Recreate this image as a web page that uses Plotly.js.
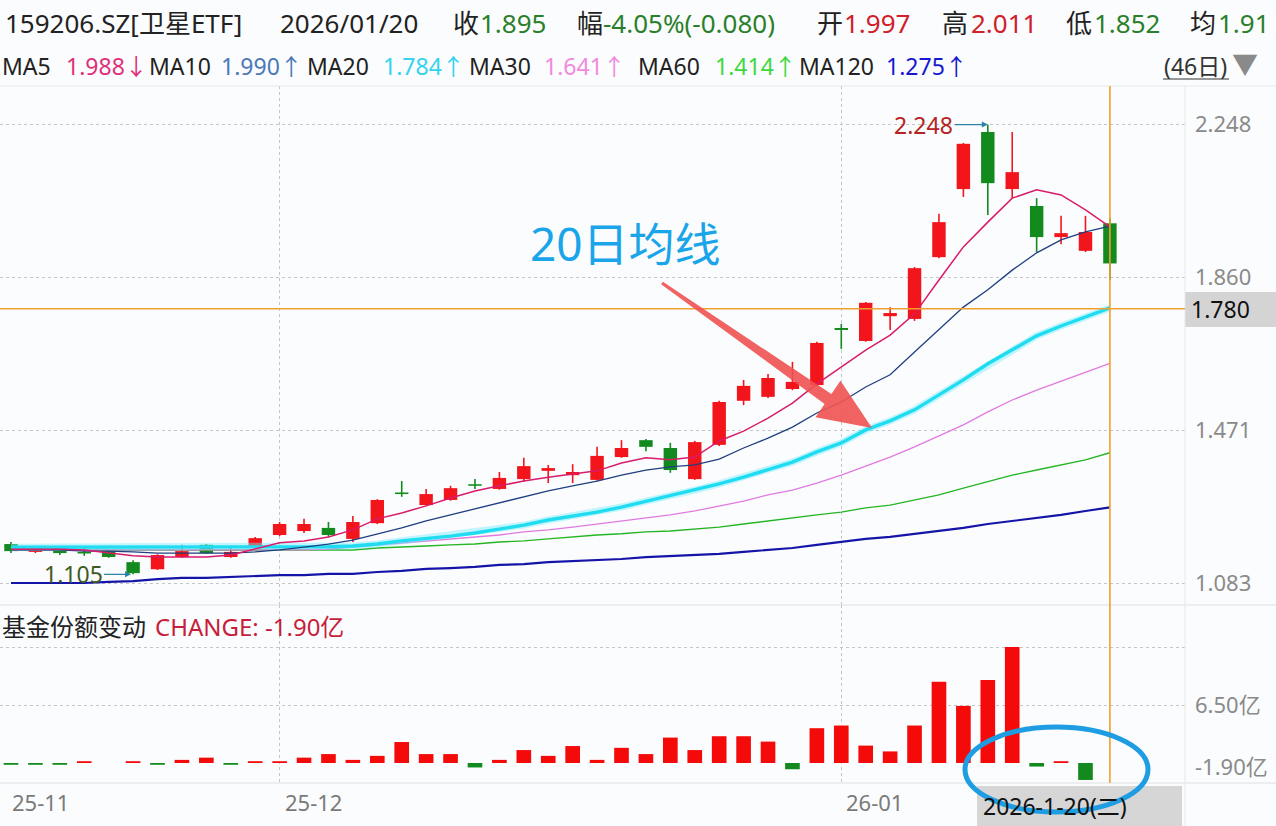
<!DOCTYPE html>
<html><head><meta charset="utf-8">
<script src="https://cdn.plot.ly/plotly-3.0.1.min.js"></script>
<style>html,body{margin:0;padding:0;background:#fbfcfd;}#chart{width:1276px;height:826px;}</style>
</head><body><div id="chart"></div>
<script>
// ---------------- data ----------------
const dates = ['2025-11-14','2025-11-17','2025-11-18','2025-11-19','2025-11-20','2025-11-21','2025-11-24','2025-11-25','2025-11-26','2025-11-27','2025-11-28',
'2025-12-01','2025-12-02','2025-12-03','2025-12-04','2025-12-05','2025-12-08','2025-12-09','2025-12-10','2025-12-11','2025-12-12','2025-12-15','2025-12-16','2025-12-17','2025-12-18','2025-12-19','2025-12-22','2025-12-23','2025-12-24','2025-12-25','2025-12-26','2025-12-29','2025-12-30','2025-12-31',
'2026-01-05','2026-01-06','2026-01-07','2026-01-08','2026-01-09','2026-01-12','2026-01-13','2026-01-14','2026-01-15','2026-01-16','2026-01-19','2026-01-20'];
const openP  = [1.182,1.162,1.172,1.160,1.164,1.136,1.118,1.149,1.180,1.149,1.174,1.205,1.215,1.223,1.195,1.235,1.313,1.281,1.294,1.333,1.322,1.347,1.368,1.357,1.345,1.403,1.446,1.426,1.347,1.434,1.546,1.556,1.576,1.586,1.731,1.698,1.761,1.754,1.911,2.084,2.229,2.084,2.041,1.962,1.927,1.997];
const highP  = [1.187,1.174,1.174,1.172,1.166,1.141,1.156,1.180,1.182,1.174,1.200,1.238,1.246,1.238,1.253,1.296,1.342,1.322,1.330,1.347,1.365,1.401,1.383,1.385,1.429,1.446,1.449,1.439,1.444,1.546,1.599,1.614,1.645,1.696,1.741,1.797,1.784,1.886,2.021,2.201,2.248,2.229,2.061,2.016,2.016,2.011];
const lowP   = [1.159,1.159,1.154,1.152,1.147,1.105,1.116,1.147,1.157,1.147,1.172,1.202,1.210,1.200,1.187,1.233,1.302,1.279,1.292,1.322,1.320,1.340,1.337,1.337,1.343,1.401,1.418,1.363,1.345,1.431,1.535,1.553,1.573,1.583,1.678,1.696,1.726,1.749,1.908,2.064,2.018,2.061,1.924,1.944,1.924,1.852];
const closeP = [1.164,1.172,1.159,1.158,1.149,1.108,1.154,1.164,1.159,1.162,1.197,1.233,1.233,1.205,1.238,1.294,1.309,1.309,1.324,1.330,1.350,1.380,1.375,1.365,1.406,1.426,1.429,1.370,1.441,1.543,1.584,1.604,1.594,1.693,1.726,1.795,1.769,1.883,2.000,2.199,2.099,2.127,1.962,1.972,1.975,1.895];
const ma5   = [1.169,1.169,1.169,1.167,1.159,1.152,1.149,1.149,1.149,1.154,1.169,1.185,1.190,1.200,1.218,1.246,1.261,1.279,1.299,1.317,1.330,1.342,1.352,1.360,1.368,1.388,1.401,1.396,1.403,1.444,1.469,1.502,1.540,1.589,1.632,1.675,1.713,1.767,1.853,1.937,2.000,2.061,2.082,2.069,2.031,1.988];
const ma10  = [1.167,1.167,1.167,1.164,1.164,1.162,1.159,1.159,1.159,1.159,1.162,1.167,1.174,1.182,1.192,1.208,1.223,1.241,1.256,1.271,1.286,1.302,1.317,1.330,1.342,1.357,1.370,1.378,1.383,1.398,1.426,1.451,1.479,1.515,1.543,1.581,1.612,1.670,1.726,1.784,1.828,1.878,1.922,1.955,1.975,1.990];
const ma20  = [1.174,1.174,1.174,1.174,1.174,1.174,1.174,1.174,1.174,1.174,1.174,1.174,1.174,1.175,1.177,1.182,1.190,1.195,1.202,1.210,1.220,1.230,1.243,1.253,1.263,1.276,1.291,1.304,1.319,1.335,1.352,1.370,1.390,1.416,1.439,1.472,1.495,1.523,1.561,1.599,1.640,1.675,1.711,1.736,1.759,1.782];
const ma30  = [1.167,1.167,1.167,1.167,1.167,1.167,1.167,1.167,1.167,1.167,1.167,1.167,1.167,1.169,1.174,1.180,1.185,1.190,1.195,1.200,1.205,1.213,1.218,1.225,1.233,1.241,1.248,1.256,1.266,1.279,1.291,1.307,1.319,1.337,1.357,1.380,1.403,1.429,1.457,1.485,1.518,1.548,1.573,1.596,1.617,1.641];
const ma60  = [1.167,1.167,1.167,1.167,1.167,1.167,1.167,1.167,1.167,1.167,1.167,1.167,1.167,1.167,1.167,1.172,1.174,1.177,1.180,1.182,1.187,1.190,1.195,1.200,1.205,1.208,1.213,1.215,1.220,1.225,1.233,1.241,1.248,1.256,1.263,1.274,1.281,1.294,1.307,1.324,1.340,1.357,1.370,1.383,1.396,1.414];
const ma120 = [1.083,1.083,1.083,1.083,1.086,1.088,1.093,1.096,1.096,1.098,1.101,1.103,1.103,1.106,1.106,1.111,1.114,1.119,1.121,1.124,1.129,1.131,1.136,1.139,1.141,1.144,1.149,1.152,1.154,1.157,1.162,1.167,1.172,1.180,1.187,1.195,1.200,1.208,1.215,1.223,1.233,1.241,1.248,1.256,1.266,1.275];
// fund share change (亿)
const fundChange = [-0.2,-0.2,-0.2,0.2,null,0.2,-0.2,0.35,0.6,-0.2,0.2,0.2,0.6,1.0,0.35,0.8,2.35,1.0,1.0,-0.5,0.35,1.45,0.8,1.9,0.35,1.7,1.0,2.85,1.45,3.0,3.0,2.4,-0.7,3.9,4.2,1.95,1.3,4.2,9.1,6.4,9.3,13.0,-0.4,0.2,-1.9,null];
const priceTicks = [1.083,1.471,1.860,2.248];
const priceTickText = ['1.083','1.471','1.860','2.248'];
const fundTicks = [13.0,6.5];
const fundTickText = ['','6.50亿'];
const fundMinLabel = '-1.90亿';
const monthTicks = ['2025-11-14','2025-12-01','2026-01-05'];
const monthLabels = ['25-11','25-12','26-01'];
const cursorDate = '2026-01-20';
const cursorPrice = 1.780;
const cursorDateLabel = '2026-1-20(二)';
const header1 = [['159206.SZ[卫星ETF]','k'],['2026/01/20','k'],['收','k'],['1.895','g'],['幅','k'],['-4.05%(-0.080)','g'],['开','k'],['1.997','r'],['高','k'],['2.011','r'],['低','k'],['1.852','g'],['均','k'],['1.91','g']];
const maNames  = ['MA5','MA10','MA20','MA30','MA60','MA120'];
const maLast   = ['1.988↓','1.990↑','1.784↑','1.641↑','1.414↑','1.275↑'];
const periodLabel = '(46日)';
const panelTitle = '基金份额变动';
const panelValue = 'CHANGE: -1.90亿';
const highLabel = '2.248', lowLabel = '1.105';
const calloutText = '20日均线';

// ---------------- styling / layout ----------------
const W = 1276, H = 826;
const PX = x => x / W, PY = y => 1 - y / H;
const XR = 1185 / W;
const FONT = 'Noto Sans, Noto Sans CJK SC, sans-serif';
const RED = '#f2151b', GREEN = '#138a1d';
const idx = d => dates.indexOf(d);

const isUp = closeP.map((c, i) => c >= openP[i]);
const bodyBase = closeP.map((c, i) => Math.min(c, openP[i]));
const bodyH = closeP.map((c, i) => Math.max(Math.abs(c - openP[i]), 0.004));
function wicks(up) {
  const x = [], y = [];
  dates.forEach((d, i) => { if (isUp[i] === up) { x.push(d, d, null); y.push(lowP[i], highP[i], null); } });
  return {x, y};
}
const wr = wicks(true), wg = wicks(false);

const traces = [
  {type:'bar', x:dates, y:bodyH, base:bodyBase, width:0.55, marker:{color:isUp.map(u => u ? RED : GREEN), line:{width:0}}, xaxis:'x', yaxis:'y'},
  {type:'scatter', mode:'lines', x:wr.x, y:wr.y, line:{color:RED, width:1.6}, xaxis:'x', yaxis:'y', hoverinfo:'skip'},
  {type:'scatter', mode:'lines', x:wg.x, y:wg.y, line:{color:GREEN, width:1.6}, xaxis:'x', yaxis:'y', hoverinfo:'skip'},
  {type:'scatter', mode:'lines', x:dates, y:ma120, line:{color:'#1414a8', width:2.2}, xaxis:'x', yaxis:'y'},
  {type:'scatter', mode:'lines', x:dates, y:ma60, line:{color:'#25b525', width:1.4}, xaxis:'x', yaxis:'y'},
  {type:'scatter', mode:'lines', x:dates, y:ma30, line:{color:'#e07ae0', width:1.3}, xaxis:'x', yaxis:'y'},
  {type:'scatter', mode:'lines', x:dates, y:ma20, line:{color:'rgba(120,235,255,0.45)', width:7}, xaxis:'x', yaxis:'y'},
  {type:'scatter', mode:'lines', x:dates, y:ma20, line:{color:'#1fdcf0', width:3.4}, xaxis:'x', yaxis:'y'},
  {type:'scatter', mode:'lines', x:dates, y:ma10, line:{color:'#1f3f80', width:1.3}, xaxis:'x', yaxis:'y'},
  {type:'scatter', mode:'lines', x:dates, y:ma5, line:{color:'#d81b6a', width:1.5}, xaxis:'x', yaxis:'y'},
  {type:'bar', x:dates, y:fundChange, width:0.6, marker:{color:fundChange.map(v => v >= 0 ? '#f50a0a' : GREEN), line:{width:0}}, xaxis:'x2', yaxis:'y2'}
];

const ann = [];
function T(text, x, y, size, color, extra) {
  ann.push(Object.assign({text, x:PX(x), y:PY(y), xref:'paper', yref:'paper', xanchor:'left', yanchor:'middle', showarrow:false,
    font:{family:FONT, size, color}}, extra || {}));
}
const hc = {k:'#222', g:'#2a7f2a', r:'#d0202a'};
const h1x = [3,278,451,478,575,601,815,842,940,969,1064,1092,1188,1216];
header1.forEach((s, i) => T(s[0], h1x[i], 23, 26, hc[s[1]]));
const maCol = ['#e0307a','#4a78b8','#33d3ee','#f08ae0','#3fd83f','#1818d0'];
const maNx = [0,147,305,467,636,797], maVx = [64,219,381,542,713,884];
maNames.forEach((n, i) => { T(n, maNx[i], 66, 23, '#222'); T(maLast[i], maVx[i], 66, 23, maCol[i]); });
T(periodLabel, 1162, 66, 23, '#333');
T('▼', 1230, 64, 26, '#8a8a8a');
T(panelTitle, 0, 626, 24, '#222');
T(panelValue, 153, 626, 24, '#c81e3c');
T(fundMinLabel, 1193, 766, 22, '#8a8a8a');
T(String(cursorPrice.toFixed(3)), 1189, 309, 23, '#111');
T(cursorDateLabel, 981, 806, 23, '#111');
T(calloutText, 528, 243, 46, '#1aa5ea');
monthLabels.forEach((m, i) => ann.push({text:m, x:idx(monthTicks[i]), y:PY(802), xref:'x2', yref:'paper', xanchor:'left', yanchor:'middle',
  xshift: i === 0 ? -1 : 3, showarrow:false, font:{family:FONT, size:22, color:'#7a7a7a'}}));
ann.push({text:highLabel, x:40, y:highP[40], xref:'x', yref:'y', ax:-64, ay:0, showarrow:true, arrowhead:2, arrowsize:1, arrowwidth:1.2,
  arrowcolor:'#2b83a8', standoff:0, font:{family:FONT, size:23, color:'#b52424'}});
ann.push({text:lowLabel, x:5, y:lowP[5], xref:'x', yref:'y', ax:-60, ay:0, showarrow:true, arrowhead:2, arrowsize:1, arrowwidth:1.2,
  arrowcolor:'#2b83a8', standoff:2, font:{family:FONT, size:23, color:'#3f5a22'}});

// red pointer arrow (tapered) in pixel space
const arrowPts = [[662.9,281.8],[831.4,394.1],[840.5,380.8],[872,428],[815.5,417.2],[824.6,403.9],[661.1,284.2]];
const arrowPath = 'M ' + arrowPts.map(p => PX(p[0]).toFixed(5) + ' ' + PY(p[1]).toFixed(5)).join(' L ') + ' Z';

const shapes = [
  {type:'line', xref:'paper', yref:'paper', x0:0, x1:1, y0:PY(86), y1:PY(86), line:{color:'#e6e8ea', width:1}},
  {type:'line', xref:'paper', yref:'paper', x0:0, x1:1, y0:PY(605), y1:PY(605), line:{color:'#dde0e3', width:1}},
  {type:'line', xref:'paper', yref:'paper', x0:0, x1:1, y0:PY(783), y1:PY(783), line:{color:'#dde0e3', width:1}},
  {type:'line', xref:'paper', yref:'paper', x0:XR, x1:XR, y0:PY(826), y1:PY(86), line:{color:'#e6e8ea', width:1}},
  {type:'line', xref:'paper', yref:'paper', x0:PX(1163), x1:PX(1229), y0:PY(79), y1:PY(79), line:{color:'#333', width:1.2}},
  {type:'line', xref:'paper', yref:'y', x0:0, x1:XR, y0:cursorPrice, y1:cursorPrice, line:{color:'#f0a030', width:1.6}},
  {type:'line', xref:'x', yref:'paper', x0:idx(cursorDate), x1:idx(cursorDate), y0:PY(783), y1:PY(86), line:{color:'#f0a030', width:1.6}},
  {type:'rect', xref:'paper', yref:'paper', x0:XR, x1:1, y0:PY(327), y1:PY(292), fillcolor:'#d4d4d4', line:{width:0}, layer:'below'},
  {type:'rect', xref:'paper', yref:'paper', x0:PX(977), x1:PX(1182), y0:PY(826), y1:PY(786), fillcolor:'#d6d6d6', line:{width:0}, layer:'below'},
  {type:'path', xref:'paper', yref:'paper', path:arrowPath, fillcolor:'rgba(240,82,82,0.9)', line:{width:0}},
  {type:'circle', xref:'paper', yref:'paper', x0:PX(965), x1:PX(1148), y0:PY(812), y1:PY(727), line:{color:'#1e9de3', width:5}}
];

const gridStyle = {showgrid:true, gridcolor:'#c4c6c8', griddash:'dot', gridwidth:1, zeroline:false, showline:false, ticks:''};
const catStyle = {type:'category', categoryorder:'array', categoryarray:dates, domain:[0, XR], range:[-0.45, 48.075], tickvals:monthTicks.slice(1), showticklabels:false};
const layout = {
  width:W, height:H, margin:{l:0, r:0, t:0, b:0}, paper_bgcolor:'#fbfcfd', plot_bgcolor:'#fbfcfd',
  showlegend:false, barmode:'overlay', hovermode:false,
  xaxis: Object.assign({anchor:'y'}, catStyle, gridStyle),
  xaxis2: Object.assign({anchor:'y2', matches:'x'}, catStyle, gridStyle),
  yaxis: Object.assign({domain:[PY(605), PY(86)], range:[1.0271, 2.3459], side:'right', anchor:'x', tickvals:priceTicks, ticktext:priceTickText,
    ticklabelstandoff:9, tickfont:{family:FONT, size:22, color:'#8a8a8a'}}, gridStyle),
  yaxis2: Object.assign({domain:[PY(782), PY(605)], range:[-2.13, 17.71], side:'right', anchor:'x2', tickvals:fundTicks, ticktext:fundTickText,
    ticklabelstandoff:9, tickfont:{family:FONT, size:22, color:'#8a8a8a'}}, gridStyle),
  annotations: ann, shapes: shapes
};
Plotly.newPlot('chart', traces, layout, {staticPlot:true, displayModeBar:false});
</script>
</body></html>
